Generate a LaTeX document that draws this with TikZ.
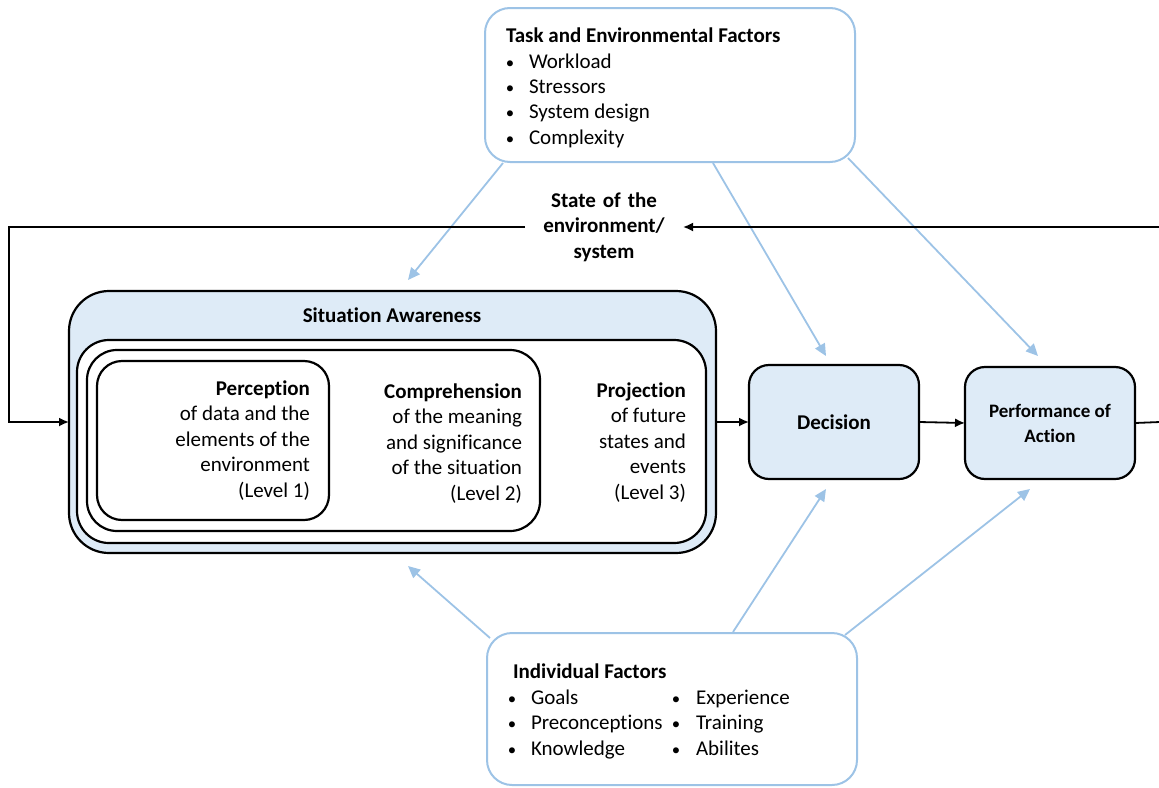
\documentclass[tikz,border=0pt]{standalone}
\usepackage{fontspec}
\setmainfont{Carlito}[Ligatures=NoCommon]
\usetikzlibrary{arrows.meta}
\definecolor{bl}{HTML}{9DC3E6}
\definecolor{fl}{HTML}{DEEBF7}
\newcommand{\bul}{\scalebox{0.8}{•}}
\begin{document}
\begin{tikzpicture}[x=1pt,y=-1pt,
  txt/.style={inner sep=0pt, outer sep=0pt, font=\fontsize{21}{25.5}\selectfont},
  bft/.style={inner sep=0pt, outer sep=0pt, font=\fontsize{21}{25.5}\selectfont\bfseries},
  bluebox/.style={draw=bl, line width=2pt, rounded corners=25pt, fill=white, inner sep=0pt, outer sep=0pt},
  blkbox/.style={draw=black, line width=2.2pt, inner sep=0pt, outer sep=0pt},
  blarrow/.style={draw=bl, line width=1.8pt, -{Triangle[length=12pt,width=11pt,fill=bl]}},
  blkarrow/.style={draw=black, line width=1.8pt, -{Latex[length=10pt,width=9pt]}},
  blkline/.style={draw=black, line width=1.8pt}
]
\useasboundingbox (0,0) rectangle (1159,787);

% ---- boxes
\node[bluebox, minimum width=370pt, minimum height=154pt] (task) at (670,85) {};
\node[bluebox, minimum width=370pt, minimum height=152pt] (indiv) at (672,709) {};
\node[blkbox, fill=fl, rounded corners=40pt, minimum width=647pt, minimum height=262pt] (sa) at (392.5,422) {};
\node[blkbox, fill=white, rounded corners=32pt, minimum width=629pt, minimum height=203pt] (l3) at (391.5,441.5) {};
\node[blkbox, fill=white, rounded corners=30pt, minimum width=453pt, minimum height=181pt] (l2) at (313.5,440.5) {};
\node[blkbox, fill=white, rounded corners=25pt, minimum width=232pt, minimum height=159pt] (l1) at (213,440.5) {};
\node[blkbox, fill=fl, rounded corners=20pt, minimum width=170pt, minimum height=114pt] (dec) at (834,422) {};
\node[blkbox, fill=fl, rounded corners=20pt, minimum width=170pt, minimum height=112pt] (perf) at (1050,423) {};

% ---- task text
\node[bft, anchor=base west] (tt) at (506,42) {Task and Environmental Factors};
\node[txt, anchor=base] (tb1) at (510,68) {\bul};
\node[txt, anchor=base west] (ti1) at (529,68) {Workload};
\node[txt, anchor=base] (tb2) at (510,93.3) {\bul};
\node[txt, anchor=base west] (ti2) at (529,93.3) {Stressors};
\node[txt, anchor=base] (tb3) at (510,118.6) {\bul};
\node[txt, anchor=base west] (ti3) at (529,118.6) {System design};
\node[txt, anchor=base] (tb4) at (510,144) {\bul};
\node[txt, anchor=base west] (ti4) at (529,144) {Complexity};

% ---- individual text
\node[bft, anchor=base west] (it) at (513,678) {Individual Factors};
\node[txt, anchor=base] (ib1) at (512,704) {\bul};
\node[txt, anchor=base west] (ii1) at (531,704) {Goals};
\node[txt, anchor=base] (ib2) at (512,729) {\bul};
\node[txt, anchor=base west] (ii2) at (531,729) {Preconceptions};
\node[txt, anchor=base] (ib3) at (512,755) {\bul};
\node[txt, anchor=base west] (ii3) at (531,755) {Knowledge};
\node[txt, anchor=base] (ib4) at (676,704) {\bul};
\node[txt, anchor=base west] (ii4) at (696,704) {Experience};
\node[txt, anchor=base] (ib5) at (676,729) {\bul};
\node[txt, anchor=base west] (ii5) at (696,729) {Training};
\node[txt, anchor=base] (ib6) at (676,755) {\bul};
\node[txt, anchor=base west] (ii6) at (696,755) {Abilites};

% ---- state
\node[bft, align=center, text width=158pt] (state) at (604,227) {State of the\\environment/\\system};

% ---- SA text
\node[bft, anchor=base] (sat) at (392,322) {Situation Awareness};
\node[bft, anchor=base east] (p0) at (310,395) {Perception};
\node[txt, anchor=base east] (p1) at (310,420.5) {of data and the};
\node[txt, anchor=base east] (p2) at (310,446) {elements of the};
\node[txt, anchor=base east] (p3) at (310,471.5) {environment};
\node[txt, anchor=base east] (p4) at (310,497) {(Level 1)};
\node[bft, anchor=base east] (c0) at (522,398) {Comprehension};
\node[txt, anchor=base east] (c1) at (522,423.5) {of the meaning};
\node[txt, anchor=base east] (c2) at (522,449) {and significance};
\node[txt, anchor=base east] (c3) at (522,474.5) {of the situation};
\node[txt, anchor=base east] (c4) at (522,500) {(Level 2)};
\node[bft, anchor=base east] (r0) at (686,397) {Projection};
\node[txt, anchor=base east] (r1) at (686,422.5) {of future};
\node[txt, anchor=base east] (r2) at (686,448) {states and};
\node[txt, anchor=base east] (r3) at (686,473.5) {events};
\node[txt, anchor=base east] (r4) at (686,499) {(Level 3)};

\node[bft, anchor=center] (dect) at (834,422) {Decision};
\node[inner sep=0pt, font=\fontsize{19}{25}\selectfont\bfseries, anchor=base] (pf1) at (1050,417.5) {Performance of};
\node[inner sep=0pt, font=\fontsize{19}{25}\selectfont\bfseries, anchor=base] (pf2) at (1050,442.5) {Action};

% ---- blue influence arrows
\coordinate (a1s) at (503,163); \coordinate (a1e) at (408,280);
\coordinate (a2s) at (713,163); \coordinate (a2e) at (826,356);
\coordinate (a3s) at (848,158); \coordinate (a3e) at (1038,356);
\coordinate (b1s) at (490,638); \coordinate (b1e) at (408,566);
\coordinate (b2s) at (733,632); \coordinate (b2e) at (826,489);
\coordinate (b3s) at (845,635); \coordinate (b3e) at (1030,489);
\draw[blarrow] (a1s) -- (a1e);
\draw[blarrow] (a2s) -- (a2e);
\draw[blarrow] (a3s) -- (a3e);
\draw[blarrow] (b1s) -- (b1e);
\draw[blarrow] (b2s) -- (b2e);
\draw[blarrow] (b3s) -- (b3e);

% ---- black flow
\coordinate (re1) at (1160,422);
\coordinate (re2) at (1160,227);
\coordinate (lc1) at (9,227);
\coordinate (lc2) at (9,422);
\draw[blkarrow] (sa.east) -- (dec.west);
\draw[blkarrow] (dec.east) -- (perf.west);
\draw[blkline] (perf.east) -- (re1);
\draw[blkarrow] (re2) -- (state.east);
\draw[blkarrow] (state.west) -- (lc1) -- (lc2) -- (sa.west);
\end{tikzpicture}
\end{document}
